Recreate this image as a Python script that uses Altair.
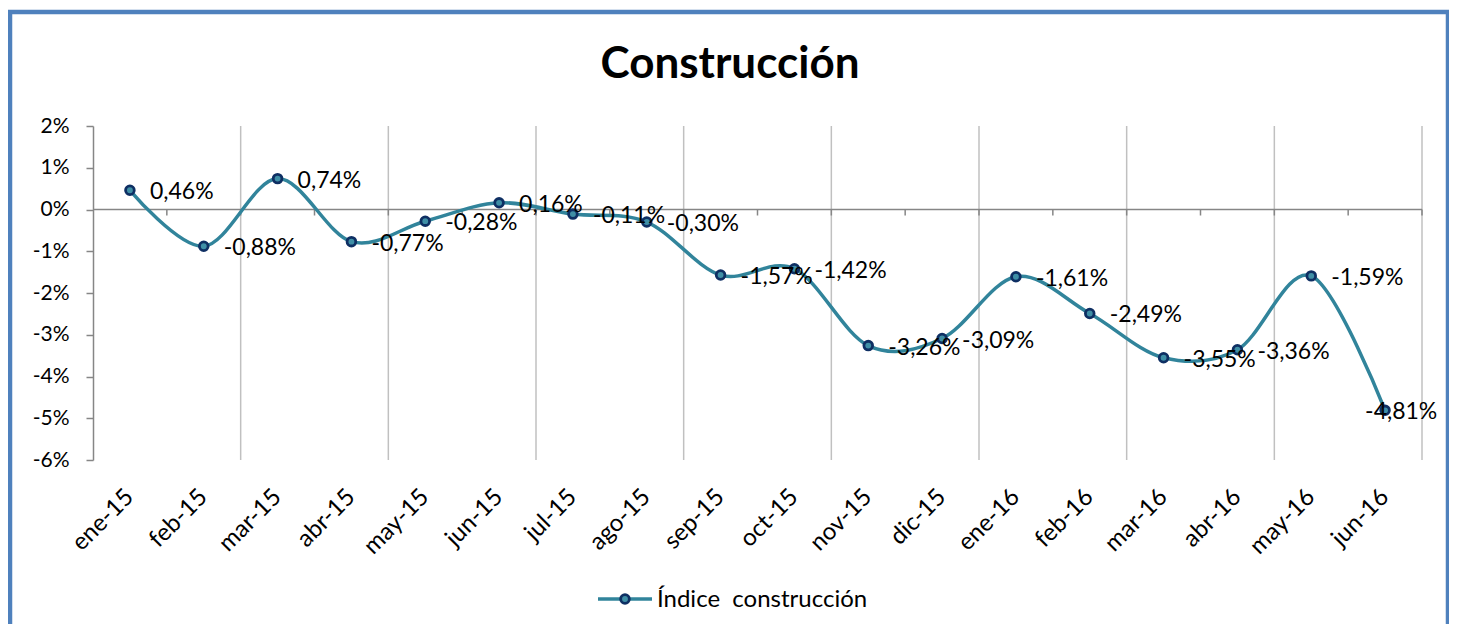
import altair as alt
import pandas as pd

meses = ["ene-15", "feb-15", "mar-15", "abr-15", "may-15", "jun-15", "jul-15", "ago-15",
         "sep-15", "oct-15", "nov-15", "dic-15", "ene-16", "feb-16", "mar-16", "abr-16",
         "may-16", "jun-16"]
valores = [0.46, -0.88, 0.74, -0.77, -0.28, 0.16, -0.11, -0.30, -1.57, -1.42, -3.26, -3.09,
           -1.61, -2.49, -3.55, -3.36, -1.59, -4.81]
y_ticks = [-6, -5, -4, -3, -2, -1, 0, 1, 2]
serie = "Índice\u00a0 construcción"
titulo = "Construcción"

etiquetas = [f"{v:.2f}".replace(".", ",") + "%" for v in valores]
df = pd.DataFrame({
    "mes": meses,
    "valor": valores,
    "etiqueta": etiquetas,
    "idx": list(range(len(meses))),
})

TEAL = "#31849B"
NAVY = "#0E2F63"
MFILL = "#3F8FA6"
GRID = "#C0C0C0"
AXIS = "#868686"
FONT = "Lato"

W, H = 1329, 334
xscale = alt.Scale(type="band", domain=meses, paddingInner=0, paddingOuter=0)
yscale = alt.Scale(domain=[-6, 2], nice=False, zero=False)

base = alt.Chart(df)

x_axis = alt.Axis(title=None, domain=False, ticks=False, grid=False, labelAngle=-45,
                  labelAlign="right", labelBaseline="middle", labelFont=FONT,
                  labelFontSize=24, labelColor="#000000", labelPadding=33)
y_axis = alt.Axis(title=None, values=y_ticks, grid=False, domainColor=AXIS, domainWidth=1.5,
                  tickColor=AXIS, tickWidth=1.5, tickSize=7, labelFont=FONT, labelFontSize=21,
                  labelColor="#000000", labelPadding=17, labelExpr="datum.value + '%'")

deco = alt.Chart(pd.DataFrame({"t": [titulo], "serie": [serie]}))
border = deco.mark_rect(
    fill=None, stroke="#4F81BD", strokeWidth=4.5
).encode(x=alt.value(-83), x2=alt.value(1355), y=alt.value(-114), y2=alt.value(540))

title = deco.mark_text(font=FONT, fontSize=44, fontWeight="bold", color="#000000",
                       align="center", baseline="alphabetic").encode(
    x=alt.value(637), y=alt.value(-48), text="t:N")

# legend (line + marker + label)
leg_line = deco.mark_rule(color=TEAL, strokeWidth=3.5).encode(
    x=alt.value(505), x2=alt.value(559), y=alt.value(473))
leg_point = deco.mark_point(shape="circle", filled=True, fill=MFILL, stroke=NAVY,
                            strokeWidth=2.8, size=75, opacity=1).encode(
    x=alt.value(532), y=alt.value(473))
leg_text = deco.mark_text(font=FONT, fontSize=24, color="#000000", align="left",
                          baseline="middle").encode(
    x=alt.value(564), y=alt.value(474), text="serie:N")

grid = base.transform_filter("datum.idx % 2 == 1").mark_rule(color=GRID, strokeWidth=1.5).encode(
    x=alt.X("mes:N", scale=xscale, bandPosition=1, axis=x_axis)
)

zero = base.mark_rule(color=AXIS, strokeWidth=1.5).encode(
    y=alt.datum(0, scale=yscale, axis=y_axis)
).transform_filter("datum.idx == 0")

zticks = base.mark_rule(color=AXIS, strokeWidth=1.5, y2Offset=6).encode(
    x=alt.X("mes:N", scale=xscale, bandPosition=1),
    y=alt.datum(0),
    y2=alt.datum(0),
)

line = base.mark_line(interpolate="cardinal", strokeWidth=3.5, color=TEAL).encode(
    x=alt.X("mes:N", scale=xscale, bandPosition=0.5),
    y=alt.Y("valor:Q", scale=yscale),
)

points = base.mark_point(filled=True, fill=MFILL, stroke=NAVY, strokeWidth=2.8, size=75,
                         opacity=1).encode(
    x=alt.X("mes:N", scale=xscale, bandPosition=0.5),
    y=alt.Y("valor:Q", scale=yscale),
)

labels = base.transform_filter("datum.idx < 17").mark_text(
    align="left", baseline="middle", dx=20, dy=2, font=FONT, fontSize=23, color="#000000"
).encode(
    x=alt.X("mes:N", scale=xscale, bandPosition=0.5),
    y=alt.Y("valor:Q", scale=yscale),
    text="etiqueta:N",
)

labels_last = base.transform_filter("datum.idx == 17").mark_text(
    align="left", baseline="middle", dx=-20, dy=2, font=FONT, fontSize=23, color="#000000"
).encode(
    x=alt.X("mes:N", scale=xscale, bandPosition=0.5),
    y=alt.Y("valor:Q", scale=yscale),
    text="etiqueta:N",
)

chart = alt.layer(border, title, leg_line, leg_point, leg_text, grid, zero, zticks,
                  line, points, labels, labels_last).properties(
    width=W, height=H,
    padding={"left": 85, "top": 118, "right": 27, "bottom": 164},
    autosize=alt.AutoSizeParams(type="none"),
).configure_view(stroke=None)

chart.save("out.html", embed_options={"renderer": "svg", "actions": False})
